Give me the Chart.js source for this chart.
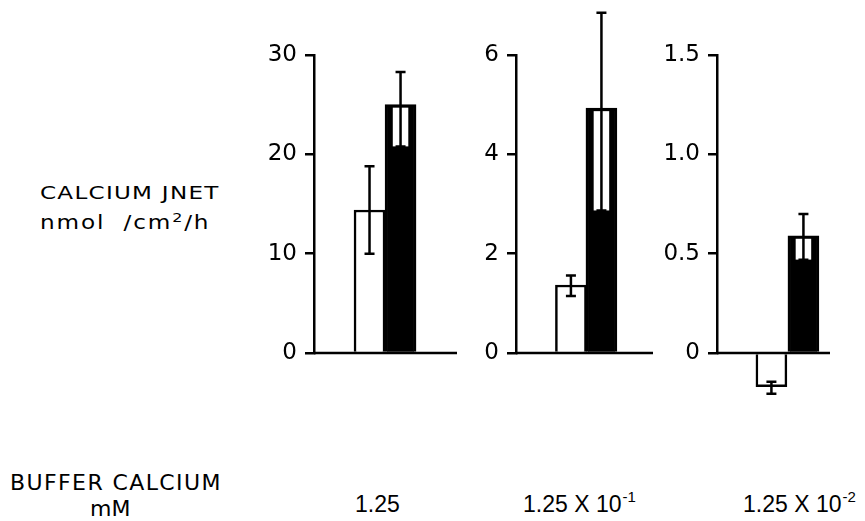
<!DOCTYPE html>
<html>
<head>
<meta charset="utf-8">
<script src="https://cdn.jsdelivr.net/npm/chart.js@4.4.1/dist/chart.umd.min.js"></script>
<style>
  html, body { margin: 0; padding: 0; background: #fff; }
  body { width: 865px; height: 521px; position: relative; overflow: hidden; font-family: "DejaVu Sans", sans-serif; color: #000; }
  .panel { position: absolute; top: 0; height: 420px; }
  .lbl { position: absolute; white-space: nowrap; line-height: 1; transform-origin: left top; }
  .num { font-family: "Liberation Sans", sans-serif; font-size: 23px; top: 493px; }
  .num sup { font-size: 15px; position: relative; top: -10px; vertical-align: baseline; margin-left: 1px; }
</style>
</head>
<body>
<div class="panel" id="p0"><canvas id="c0"></canvas></div>
<div class="panel" id="p1"><canvas id="c1"></canvas></div>
<div class="panel" id="p2"><canvas id="c2"></canvas></div>

<div class="lbl" style="left:40px; top:184px; font-size:18px; letter-spacing:1px; transform:scaleX(1.28);">CALCIUM JNET</div>
<div class="lbl" style="left:40px; top:211px; font-size:19px; letter-spacing:1.5px; transform:scaleX(1.22);">nmol&nbsp;&nbsp;/cm<sup style="font-size:13px;">2</sup>/h</div>
<div class="lbl" style="left:10px; top:472px; font-size:22px; letter-spacing:1.4px;">BUFFER CALCIUM</div>
<div class="lbl" style="left:90px; top:498px; font-size:22px;">mM</div>
<div class="lbl num" id="b0" style="left:355px;"></div>
<div class="lbl num" id="b1" style="left:523px;"></div>
<div class="lbl num" id="b2" style="left:743px;"></div>

<script>
// buffer calcium (mM) for each panel
const bufferMantissa = ["1.25", "1.25 X 10", "1.25 X 10"];
const bufferExponent = ["", "-1", "-2"];

// open bars
const openMean = [14.4, 1.37, -0.17];
const openLow = [10.0, 1.15, -0.205];
const openHigh = [18.8, 1.56, -0.145];

// filled bars
const solidMean = [25.0, 4.93, 0.59];
const solidLow = [20.8, 2.87, 0.47];
const solidHigh = [28.3, 6.85, 0.70];

// y axes
const yMax = [30, 6, 1.5];
const yTicks = [[0, 10, 20, 30], [0, 2, 4, 6], [0, 0.5, 1.0, 1.5]];
const yTickLabels = [["0", "10", "20", "30"], ["0", "2", "4", "6"], ["0", "0.5", "1.0", "1.5"]];

// layout of the three panels (pixels)
const panelLeft = [244, 446, 647];
const panelWidth = [217, 211, 187];
const xMin = [-0.79, -0.80, -0.70];
const xMax = [3.82, 3.69, 2.83];

const INK = "#000";

const errorBars = {
  id: "errorBars",
  afterDraw(chart, args, opts) {
    const ctx = chart.ctx;
    const area = chart.chartArea;
    const yScale = chart.scales.y;
    const y0 = yScale.getPixelForValue(0);
    const meta = chart.getDatasetMeta(0);
    ctx.save();
    ctx.strokeStyle = INK;
    ctx.lineWidth = 2.5;

    // zero line across the panel
    ctx.beginPath();
    ctx.moveTo(area.left, y0);
    ctx.lineTo(area.right, y0);
    ctx.stroke();

    meta.data.forEach((bar, i) => {
      const yLo = yScale.getPixelForValue(opts.low[i]);
      const yHi = yScale.getPixelForValue(opts.high[i]);
      const cap = 5;
      if (i === 1 && yLo > bar.y) {
        // white slot cut into the filled bar
        const w = bar.width * 0.5;
        ctx.fillStyle = "#fff";
        ctx.fillRect(bar.x - w / 2, bar.y + 3, w, yLo - bar.y - 3);
      }
      ctx.beginPath();
      ctx.moveTo(bar.x, yLo);
      ctx.lineTo(bar.x, yHi);
      ctx.moveTo(bar.x - cap, yLo);
      ctx.lineTo(bar.x + cap, yLo);
      ctx.moveTo(bar.x - cap, yHi);
      ctx.lineTo(bar.x + cap, yHi);
      ctx.stroke();
    });
    ctx.restore();
  },
};

function makePanel(k) {
  const box = document.getElementById("p" + k);
  box.style.left = panelLeft[k] + "px";
  box.style.width = panelWidth[k] + "px";

  const lab = document.getElementById("b" + k);
  lab.innerHTML = bufferMantissa[k] + (bufferExponent[k] ? "<sup>" + bufferExponent[k] + "</sup>" : "");

  new Chart(document.getElementById("c" + k), {
    type: "bar",
    data: {
      datasets: [
        {
          data: [
            { x: 1, y: openMean[k] },
            { x: 2, y: solidMean[k] },
          ],
          backgroundColor: ["#fff", INK],
          borderColor: INK,
          borderWidth: 2.5,
          barThickness: 31,
          clip: false,
        },
      ],
    },
    options: {
      responsive: true,
      maintainAspectRatio: false,
      animation: false,
      layout: { padding: { top: 55, bottom: 67, left: 0, right: 4 } },
      plugins: {
        legend: { display: false },
        tooltip: { enabled: false },
        errorBars: {
          low: [openLow[k], solidLow[k]],
          high: [openHigh[k], solidHigh[k]],
        },
      },
      scales: {
        x: {
          type: "linear",
          min: xMin[k],
          max: xMax[k],
          offset: false,
          ticks: { display: false },
          grid: { display: false },
          border: { display: false },
          afterFit: (s) => { s.height = 0; },
        },
        y: {
          min: 0,
          max: yMax[k],
          afterBuildTicks: (s) => { s.ticks = yTicks[k].map((v) => ({ value: v })); },
          ticks: {
            callback: (v, i) => yTickLabels[k][i],
            font: { family: "DejaVu Sans", size: 23 },
            color: INK,
            padding: 8,
          },
          grid: { drawOnChartArea: false, tickLength: 9, color: INK, lineWidth: 2.5 },
          border: { color: INK, width: 2.5 },
          afterFit: (s) => { s.width = 70; },
        },
      },
    },
    plugins: [errorBars],
  });
}

[0, 1, 2].forEach(makePanel);
</script>
</body>
</html>
